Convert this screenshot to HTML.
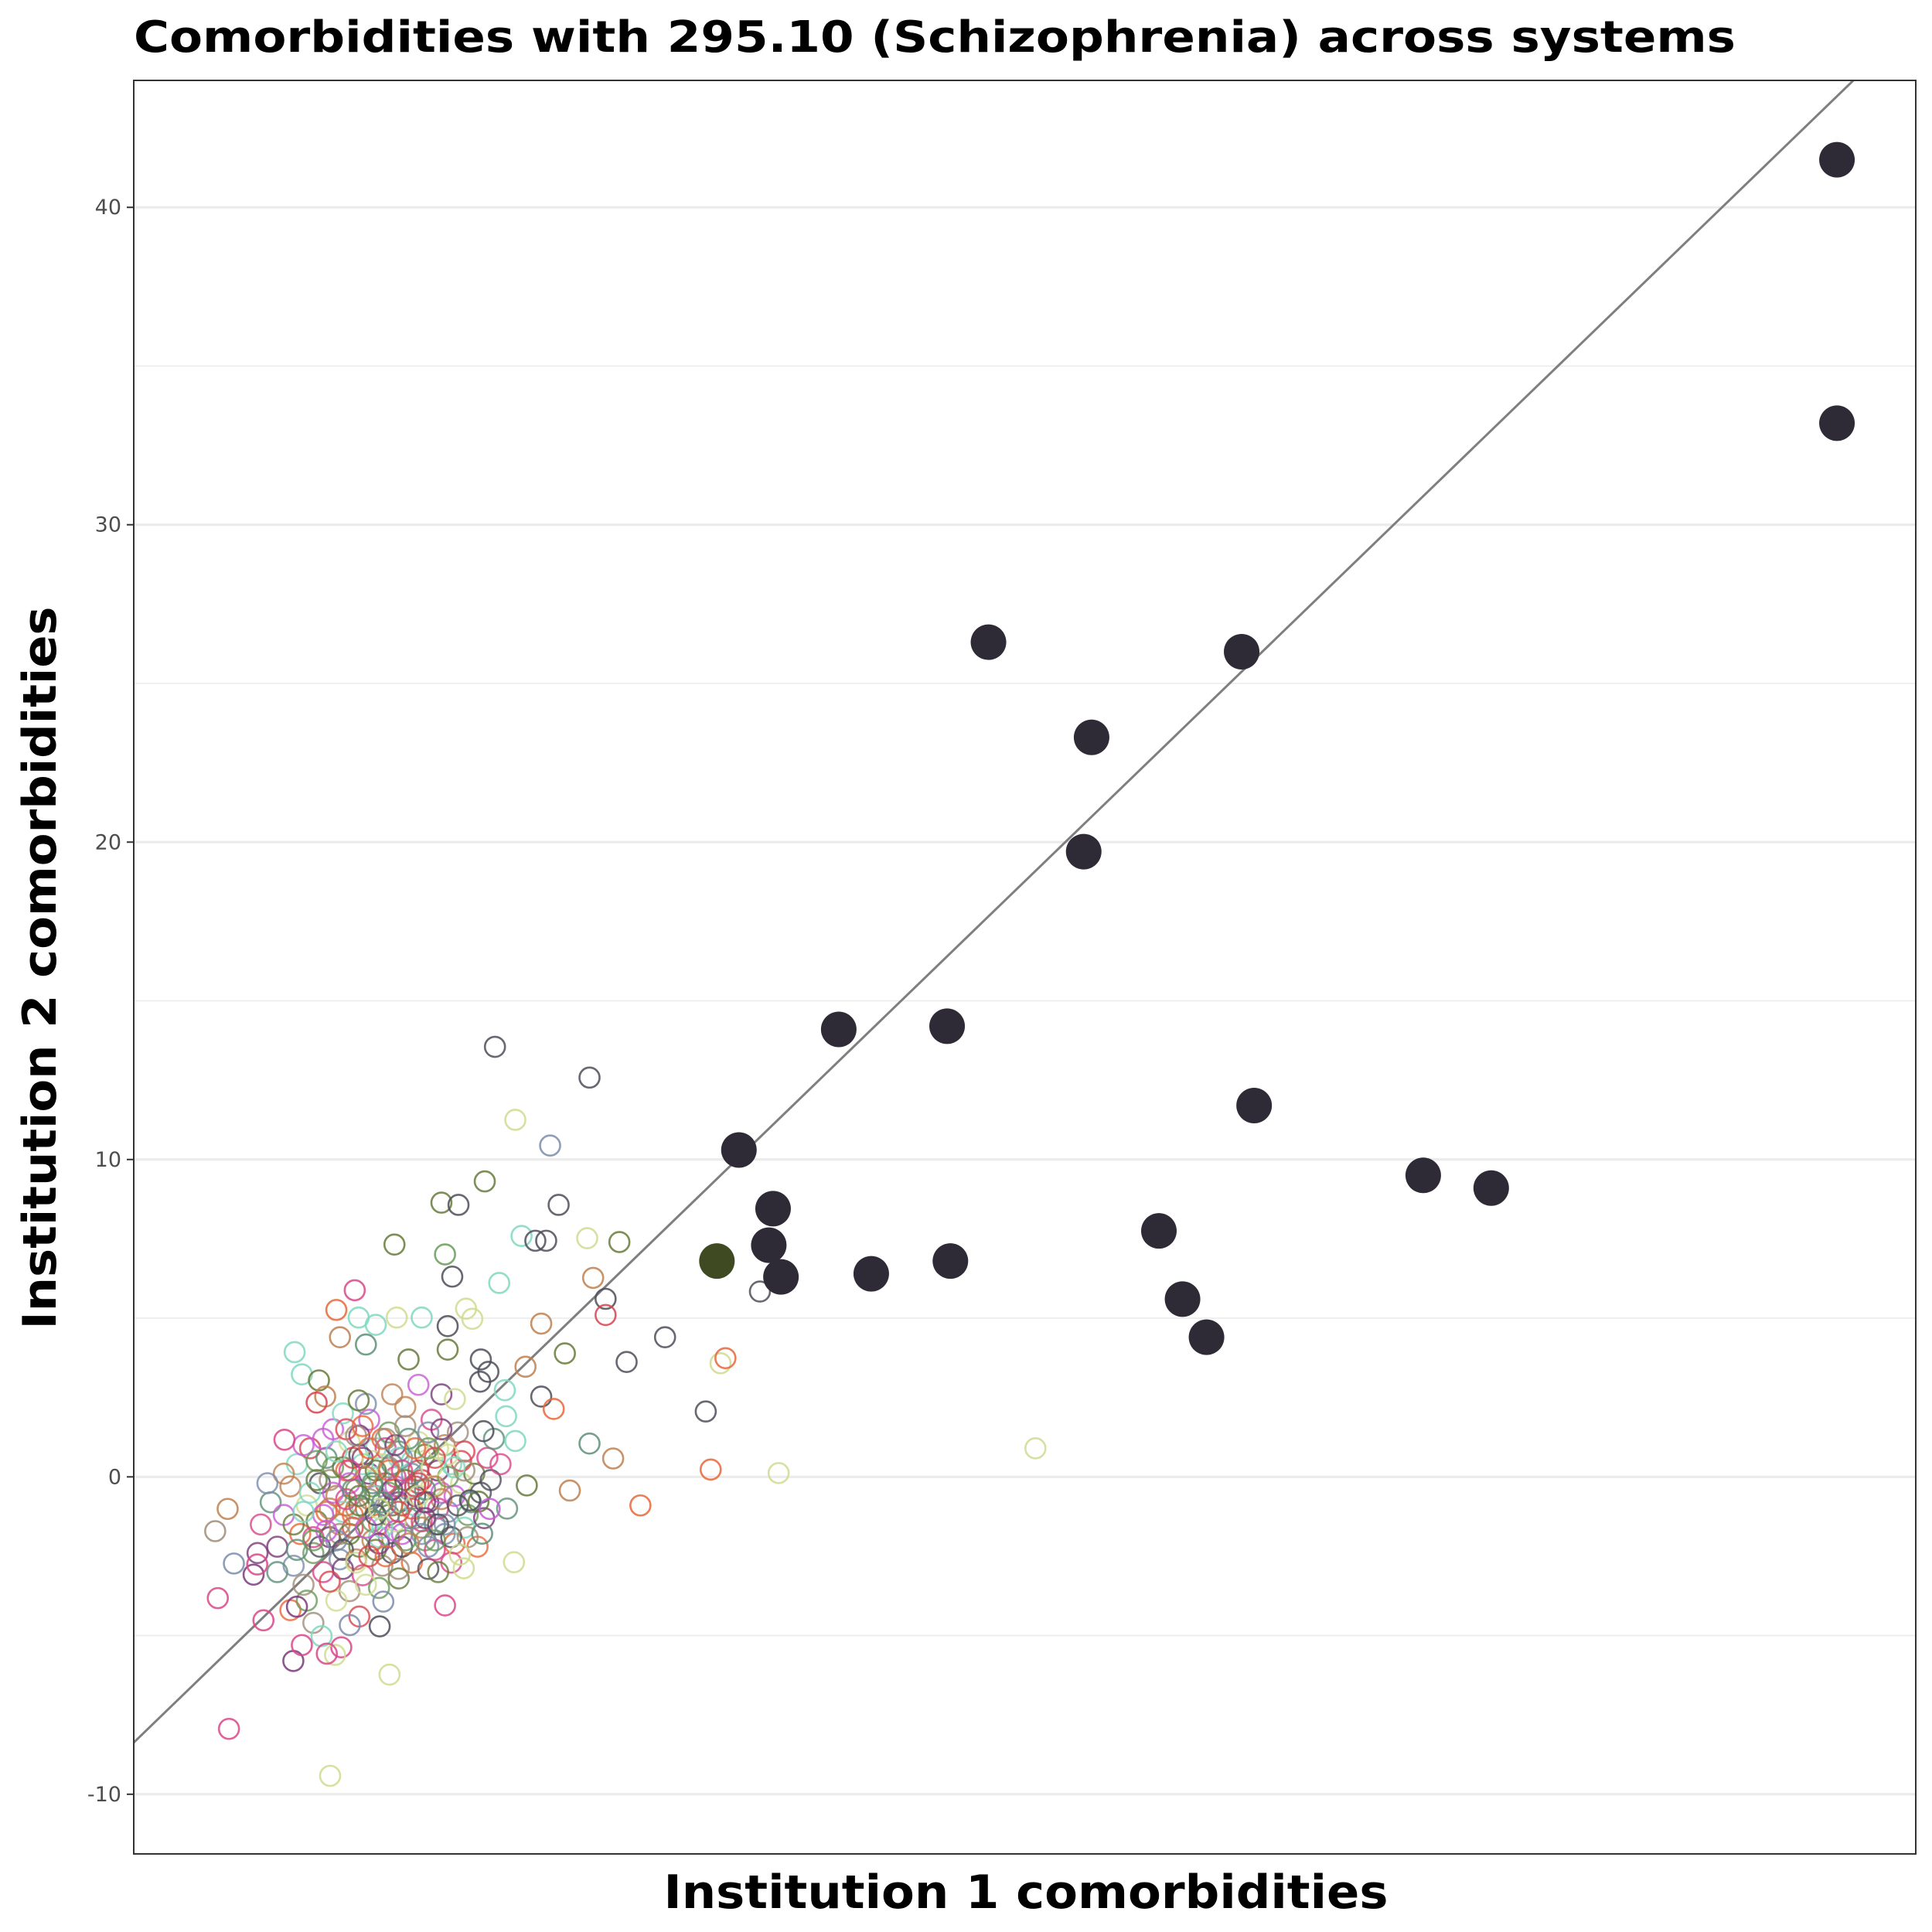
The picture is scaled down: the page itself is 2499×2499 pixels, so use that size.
<!DOCTYPE html>
<html><head><meta charset="utf-8"><style>html,body{margin:0;padding:0;background:#fff;overflow:hidden;width:2499px;height:2499px}svg{display:block}</style></head>
<body>
<svg id="chart" xmlns="http://www.w3.org/2000/svg" width="2499" height="2499" viewBox="0 0 2499 2499">
<rect width="2499" height="2499" fill="#fff"/>
<g id="grid"></g>
<g id="yticks"></g>
<defs><clipPath id="pc"><rect x="173" y="104" width="2305" height="2294"/></clipPath></defs>
<g id="refline" clip-path="url(#pc)"></g>
<g id="hollow" clip-path="url(#pc)"></g>
<g id="solid" clip-path="url(#pc)"></g>
<rect x="173" y="104" width="2305" height="2294" fill="none" stroke="#333" stroke-width="2"/>
<text x="173" y="67" font-family="DejaVu Sans, Liberation Sans, sans-serif" font-weight="bold" font-size="56" textLength="2072" lengthAdjust="spacingAndGlyphs" fill="#000">Comorbidities with 295.10 (Schizophrenia) across systems</text>
<text x="1327" y="2468" text-anchor="middle" font-family="DejaVu Sans, Liberation Sans, sans-serif" font-weight="bold" font-size="60" textLength="937" lengthAdjust="spacingAndGlyphs" fill="#000">Institution 1 comorbidities</text>
<text x="0" y="0" transform="translate(72,1252) rotate(-90)" text-anchor="middle" font-family="DejaVu Sans, Liberation Sans, sans-serif" font-weight="bold" font-size="60" textLength="935" lengthAdjust="spacingAndGlyphs" fill="#000">Institution 2 comorbidities</text>
</svg>
<script>
const yMajorTicks = [-10, 0, 10, 20, 30, 40];
const yTickLabels = ["-10", "0", "10", "20", "30", "40"];
const yMinorTicks = [-5, 5, 15, 25, 35];
const highX = [43.5,43.5,17.66,25.37,20.8,20.56,13.1,16.4,25.75,10.06,30.9,32.97,11.1,10.97,11.34,14.09,16.5,22.85,23.57,24.3];
const highY = [41.5,33.2,26.3,26.0,23.3,19.7,14.1,14.2,11.7,10.3,9.5,9.1,8.45,7.3,6.3,6.4,6.8,7.75,5.6,4.4];
const targetX = [9.39];
const targetY = [6.8];
const outX = [2.63,5.51,3.25,4.31,2.32,1.0,1.52,4.57,-0.43,1.11,3.44,3.86,4.19,5.44,6.42,1.33,5.62,2.76,10.7,6.0,6.0,4.04,-1.64,-2.2,7.81,4.76,6.64,9.5,9.65,3.56,4.04,4.42,9.05,5.51,6.23,3.25,9.2,11.27,19.09,3.6,4.91,7.06,3.21,-0.58,-2.39,-5.47,-3.51,-5.81,-5.89,-5.51,-4.42,-0.88,1.11,-3.47,-3.25,-1.3,-2.09,-1.52,-1.0,-0.36,0.4,1.75,1.94,1.19,1.19,0.0,2.2,2.43,2.18,2.93,1.41,-2.73,-2.54,-2.8,-1.52,-3.78,2.97,2.28,2.13,2.47,1.87,2.24,1.56,1.68,-3.4,-2.65,-3.25,-2.05,-2.24,-2.49,-1.79,-0.77,-5.32,-4.72,-4.61];
const outY = [13.55,12.58,11.25,10.44,9.31,8.64,8.57,8.57,7.32,7.01,7.59,7.44,7.44,7.52,7.4,6.31,6.27,6.11,5.84,5.61,5.1,4.83,5.88,5.26,4.4,3.89,3.62,3.58,3.74,3.47,2.53,2.14,2.06,1.05,0.58,1.13,0.23,0.12,0.9,-0.27,-0.43,-0.9,-2.69,-6.23,-9.42,-7.94,-5.8,-3.82,-1.71,-1.01,-4.52,-4.71,-4.05,3.93,3.23,4.17,4.4,5.02,4.79,5.02,5.02,5.3,4.98,4.75,4.01,3.7,3.7,3.31,3.0,2.73,2.45,3.04,2.53,2.34,2.41,1.17,1.91,1.44,-0.78,-1.01,-0.74,-1.79,-2.45,-2.88,-4.09,-5.02,-5.3,-5.37,-5.61,-5.57,-4.67,-3.93,-2.73,-3.08,-2.76];
const outColor = [9,9,3,11,4,4,9,9,4,13,2,9,9,3,4,9,6,2,9,9,8,6,0,7,9,4,9,3,7,6,9,7,9,5,6,2,7,3,3,4,6,7,3,3,3,0,10,0,12,6,0,9,0,2,2,5,6,2,2,3,2,3,3,9,4,4,9,9,9,2,3,4,6,8,4,0,2,9,4,1,9,5,3,3,10,2,0,0,3,0,11,11,11,10,0];
const clusterX = [-4.5,-4.2,-4.0,-3.8,-3.6,-3.5,-3.4,-3.3,-3.2,-3.1,-3.0,-2.9,-2.8,-2.7,-2.6,-2.5,-2.4,-2.3,-2.2,-2.1,-2.0,-1.9,-1.8,-1.8,-1.7,-1.6,-1.5,-1.5,-1.4,-1.3,-1.2,-1.2,-1.1,-1.0,-1.0,-0.9,-0.8,-0.8,-0.7,-0.6,-0.6,-0.5,-0.4,-0.3,-0.3,-0.2,-0.1,0.0,0.1,0.1,0.2,0.3,0.4,0.5,0.5,0.6,0.7,0.8,0.9,1.0,1.1,1.2,1.3,1.4,1.5,1.6,1.7,1.8,2.0,2.2,2.4,2.6,1.0,0.3,-0.5,-1.3,-2.0,-3.6,-2.9,-2.2,-1.5,-0.9,-0.3,0.6,1.3,-4.0,-4.6,-2.6,-1.6,-0.2,-0.9,-1.9,-2.4,0.7,1.6,-1.1,-0.5,0.2,-2.9,-3.4,-2.0,-0.6,0.4,1.1,-1.4,-0.8,-0.1,0.9,-1.7,-2.3,-1.0,-0.2,0.8,1.9,2.3,1.4,-3.8,-4.3,-3.0,-2.5,-1.2,-0.4,0.3,1.2,-1.8,-2.7,-0.7,0.0,-1.5,-3.2,-2.1,0.6,1.7,2.1,-0.3,-1.3,-2.4,-3.1,0.9,2.5,2.8,3.0,1.0,-0.4,-1.6,-2.2,-0.9,0.1,-0.6,-1.1,-1.9,-2.8,-3.5];
const clusterY = [-1.5,-0.8,-2.2,-1.2,-0.3,-2.8,0.4,-1.8,-3.4,-0.9,0.9,-2.4,-1.4,-0.2,-3.0,0.6,-1.9,1.5,-0.6,-2.6,-1.1,0.2,-3.6,1.1,-1.6,-0.4,-2.2,0.7,-3.1,-1.0,0.1,1.8,-2.0,-0.6,0.9,-1.5,-2.8,0.4,-0.2,1.4,-1.2,-2.4,0.0,0.8,-0.8,-1.8,2.2,-0.4,0.5,-2.7,-1.3,1.1,-0.1,-2.0,0.7,-0.8,1.8,-1.5,0.2,-0.5,1.0,-1.1,0.4,-2.1,1.4,-0.2,0.8,-1.2,0.1,-0.5,0.6,1.2,2.6,2.9,2.6,2.3,2.0,-4.2,-4.6,-3.9,-4.4,-3.5,-3.2,-2.9,-2.7,-3.0,-2.4,1.2,-2.6,0.6,0.0,-0.9,-0.1,-0.3,0.5,-1.4,-0.9,-0.6,-1.9,-2.3,-2.9,-1.9,-1.6,-1.8,0.4,1.2,1.6,0.9,0.6,0.3,-2.3,-2.2,-2.3,-0.8,-1.3,-0.6,0.1,-0.2,-0.5,-1.1,-0.7,-1.4,0.2,0.0,-1.8,-2.2,0.9,1.2,1.3,1.0,-1.5,1.4,-1.6,-2.2,-2.9,-3.4,-3.3,-3.9,-3.0,-0.1,0.4,-1.0,1.5,-0.3,-1.0,-2.0,-1.9,-1.0,0.3,0.5,1.5,0.5,-1.5];
const coreX = [-2.3,-2.0,-1.7,-1.4,-1.1,-0.8,-0.5,-0.2,0.1,0.4,0.7,1.0,1.3,-2.1,-1.8,-1.5,-1.2,-0.9,-0.6,-0.3,0.0,0.3,0.6,0.9,1.2,-2.4,-2.0,-1.6,-1.3,-1.0,-0.7,-0.4,-0.1,0.2,0.5,0.8,1.1,-1.9,-1.6,-1.3,-1.0,-0.7,-0.4,-0.1,0.2,0.5,0.8,-2.2,-1.7,-1.2,-0.7,-0.2,0.3,0.8,1.5,1.8,-2.6,-2.8,-1.4,-0.5,0.6,1.4,-1.1,-0.3,0.4,-1.8,-0.9,0.0,0.9,1.7,-2.5,-1.5,-0.6,0.5,-2.9,-3.2,-0.8,0.2];
const coreY = [-0.5,0.3,-1.2,0.6,-0.3,-1.6,0.4,-0.9,0.1,-1.4,0.3,-0.7,-1.9,-1.8,-0.2,-0.9,0.9,-2.1,-0.5,0.6,-1.3,-0.2,-2.2,-1.0,0.7,-1.0,-2.3,1.3,-1.6,0.2,-2.5,1.0,-2.0,-0.9,-0.4,0.6,-1.5,-0.7,-2.7,0.0,-1.2,1.2,-1.7,-0.1,0.9,-1.3,-2.0,0.8,-0.4,-2.5,-0.9,0.2,-0.6,-0.3,-0.9,-1.9,-1.2,-0.1,1.6,-0.4,0.9,0.3,-0.2,-1.1,-1.8,0.2,-1.0,-2.1,-1.5,0.2,-1.7,-0.6,0.2,-0.8,-2.0,-1.1,-0.8,-0.3];
const palette = ["#d9468a","#c85ad6","#7fd8bf","#cfdc90","#667a3a","#5d8f78","#c0804f","#e8663a","#d9434f","#4d4d5a","#7a3a7a","#7a8cab","#a08c78","#6a9a5a"];

const X0 = 173, X1 = 2478, Y0 = 104, Y1 = 2398;
const xMin = -8.37, xMax = 45.9, yMin = -11.88, yMax = 44.0;
function xs(v){ return X0 + (v - xMin) / (xMax - xMin) * (X1 - X0); }
function ys(v){ return Y0 + (yMax - v) / (yMax - yMin) * (Y1 - Y0); }
const NS = "http://www.w3.org/2000/svg";
function mk(tag, attrs){ const e = document.createElementNS(NS, tag); for (const k in attrs) e.setAttribute(k, attrs[k]); return e; }

const grid = document.getElementById('grid');
yMinorTicks.forEach(t => {
  const l = mk('line', {x1: X0, x2: X1, y1: ys(t), y2: ys(t), stroke: '#ebebeb', 'stroke-width': 1.6});
  
  
  grid.appendChild(l);
});
yMajorTicks.forEach(t => {
  const l = mk('line', {x1: X0, x2: X1, y1: ys(t), y2: ys(t), stroke: '#ebebeb', 'stroke-width': 3.2});
  
  
  grid.appendChild(l);
});
const yt = document.getElementById('yticks');
yMajorTicks.forEach((t, i) => {
  const tk = mk('line', {x1: X0 - 9, x2: X0, y1: ys(t), y2: ys(t), stroke: '#333', 'stroke-width': 2});
  
  
  yt.appendChild(tk);
  const tx = mk('text', {x: X0 - 16, y: ys(t) + 9, 'text-anchor': 'end', 'font-family': 'DejaVu Sans, Liberation Sans, sans-serif', 'font-size': 27, fill: '#4d4d4d'});
  tx.textContent = yTickLabels[i];
  
  
  yt.appendChild(tx);
});
const rl = document.getElementById('refline');
const line = mk('line', {x1: xs(-20), y1: ys(-20), x2: xs(60), y2: ys(60), stroke: '#7f7f7f', 'stroke-width': 3});


rl.appendChild(line);

const hg = document.getElementById('hollow');
clusterX.forEach((v, i) => {
  const c = mk('circle', {cx: xs(v), cy: ys(clusterY[i]), r: 13, fill: 'none', stroke: palette[(i * 5) % palette.length], 'stroke-width': 2.6, 'stroke-opacity': 0.8});
  
  
  hg.appendChild(c);
});
coreX.forEach((v, i) => {
  const c = mk('circle', {cx: xs(v), cy: ys(coreY[i]), r: 13, fill: 'none', stroke: palette[(i * 3 + 1) % palette.length], 'stroke-width': 2.6, 'stroke-opacity': 0.8});
  
  
  hg.appendChild(c);
});
outX.forEach((v, i) => {
  const c = mk('circle', {cx: xs(v), cy: ys(outY[i]), r: 13, fill: 'none', stroke: palette[outColor[i] % palette.length], 'stroke-width': 2.6, 'stroke-opacity': 0.85});
  
  
  hg.appendChild(c);
});
const sg = document.getElementById('solid');
highX.forEach((v, i) => {
  const c = mk('circle', {cx: xs(v), cy: ys(highY[i]), r: 23, fill: '#2e2a36'});
  
  
  sg.appendChild(c);
});
targetX.forEach((v, i) => {
  const c = mk('circle', {cx: xs(v), cy: ys(targetY[i]), r: 23, fill: '#3f4a22'});
  
  
  sg.appendChild(c);
});
</script>
</body></html>
